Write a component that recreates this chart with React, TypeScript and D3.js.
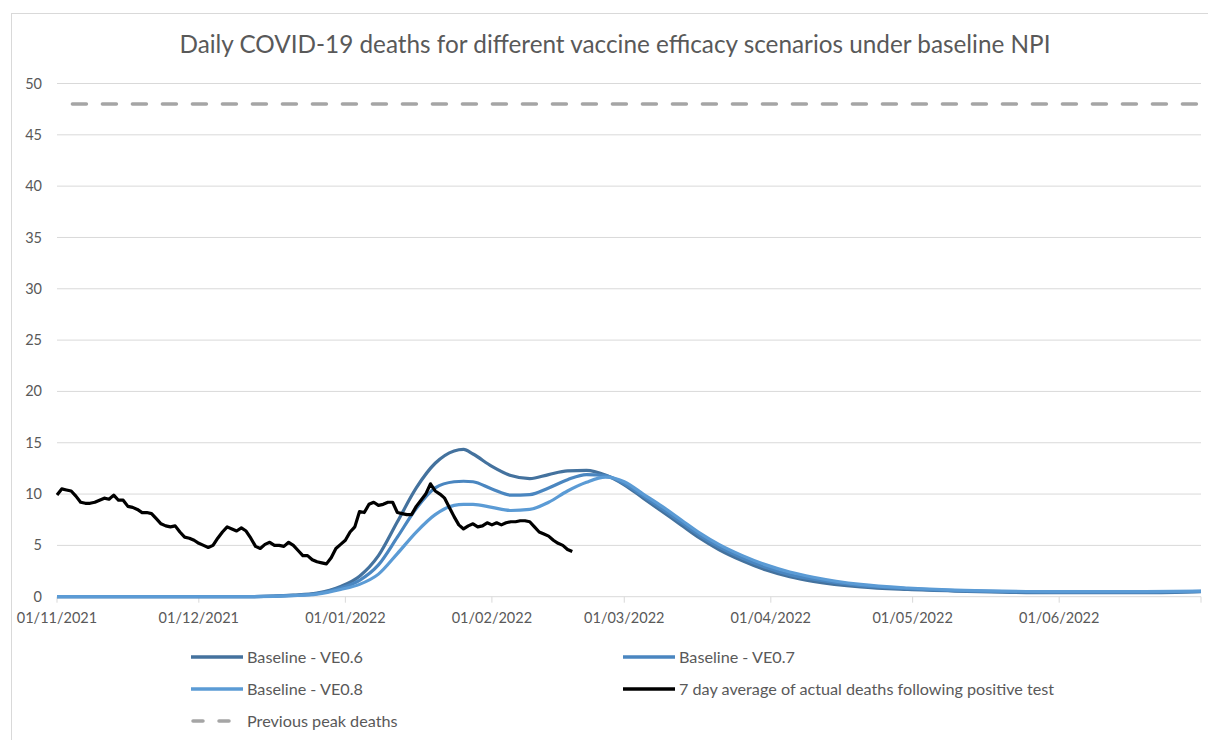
import React from 'react';
import * as d3 from 'd3';

const chartTitle = 'Daily COVID-19 deaths for different vaccine efficacy scenarios under baseline NPI';

const axisStart = '2021-11-01';
const axisEnd = '2022-07-01';
const monthTicks = ['2021-11-01', '2021-12-01', '2022-01-01', '2022-02-01', '2022-03-01', '2022-04-01', '2022-05-01', '2022-06-01'];
const yTicks = [0, 5, 10, 15, 20, 25, 30, 35, 40, 45, 50];

// model output, sampled at these days after 01/11/2021
const modelDays = [0, 40, 50, 55, 60, 64, 68, 72, 76, 80, 84, 86, 88, 92, 96, 100, 104, 108, 112, 116, 120, 124, 128, 132, 136, 140, 145, 150, 155, 160, 170, 180, 190, 200, 210, 220, 230, 242];
const ve06 = [0, 0, 0.15, 0.35, 1.0, 2.0, 4.0, 7.3, 10.6, 13.0, 14.2, 14.35, 13.9, 12.7, 11.8, 11.5, 11.9, 12.25, 12.3, 11.85, 10.9, 9.6, 8.3, 7.0, 5.7, 4.6, 3.5, 2.6, 1.95, 1.5, 0.95, 0.7, 0.55, 0.45, 0.4, 0.4, 0.4, 0.5];
const ve07 = [0, 0, 0.12, 0.3, 0.85, 1.6, 3.1, 5.8, 8.6, 10.6, 11.2, 11.25, 11.2, 10.5, 9.9, 9.95, 10.6, 11.4, 11.9, 11.8, 11.0, 9.8, 8.55, 7.25, 5.95, 4.85, 3.75, 2.85, 2.15, 1.7, 1.08, 0.78, 0.6, 0.5, 0.45, 0.45, 0.45, 0.52];
const ve08 = [0, 0, 0.1, 0.25, 0.7, 1.2, 2.2, 4.2, 6.3, 8.0, 8.9, 9.0, 9.0, 8.7, 8.4, 8.5, 9.2, 10.3, 11.15, 11.65, 11.2, 10.0, 8.8, 7.5, 6.2, 5.1, 4.0, 3.1, 2.4, 1.9, 1.2, 0.85, 0.65, 0.55, 0.5, 0.5, 0.5, 0.55];

// 7 day average of actual deaths, one value a day from 01/11/2021
const actualStart = '2021-11-01';
const actualDeaths = [
  9.9, 10.5, 10.4, 10.3, 9.8, 9.2, 9.1, 9.1, 9.2, 9.4,
  9.6, 9.5, 9.9, 9.4, 9.4, 8.8, 8.7, 8.5, 8.2, 8.2,
  8.1, 7.6, 7.1, 6.9, 6.8, 6.9, 6.3, 5.8, 5.7, 5.5,
  5.2, 5.0, 4.8, 5.0, 5.7, 6.3, 6.8, 6.6, 6.4, 6.7,
  6.4, 5.7, 4.9, 4.7, 5.1, 5.3, 5.0, 5.0, 4.9, 5.3,
  5.0, 4.5, 4.0, 4.0, 3.6, 3.4, 3.3, 3.2, 3.8, 4.7,
  5.1, 5.5, 6.3, 6.8, 8.3, 8.2, 9.0, 9.2, 8.9, 9.0,
  9.2, 9.2, 8.2, 8.1, 8.0, 8.0, 8.8, 9.4, 10.0, 11.0,
  10.3, 10.0, 9.6, 8.7, 7.8, 7.0, 6.6, 6.9, 7.1, 6.8,
  6.9, 7.2, 7.0, 7.2, 7.0, 7.2, 7.3, 7.3, 7.4, 7.4,
  7.3, 6.8, 6.3, 6.1, 5.9, 5.5, 5.2, 5.0, 4.6, 4.4,
];

const previousPeak = 48;

const seriesNames = ['Baseline - VE0.6', 'Baseline - VE0.7', 'Baseline - VE0.8'];
const seriesColors = ['#44729e', '#4a86c0', '#5b9bd5'];
const actualName = '7 day average of actual deaths following positive test';
const peakName = 'Previous peak deaths';

const font = "Lato, 'Open Sans', sans-serif";
const labelColor = '#595959';
const gridColor = '#d9d9d9';

const parse = d3.utcParse('%Y-%m-%d');
const fmt = d3.utcFormat('%d/%m/%Y');

export default function App() {
  const width = 1208;
  const height = 740;
  const left = 57;
  const right = 1201;
  const top = 83.5;
  const bottom = 596.7;

  const x = d3.scaleUtc().domain([parse(axisStart)!, parse(axisEnd)!]).range([left, right]);
  const y = d3.scaleLinear().domain([0, 50]).range([bottom, top]);

  const start = parse(axisStart)!;
  const modelSeries = [ve06, ve07, ve08].map((vals) =>
    vals.map((v, i) => ({ date: d3.utcDay.offset(start, modelDays[i]), value: v }))
  );
  const actual = actualDeaths.map((v, i) => ({ date: d3.utcDay.offset(parse(actualStart)!, i), value: v }));

  const smooth = d3.line<{ date: Date; value: number }>()
    .x((d) => x(d.date))
    .y((d) => y(d.value))
    .curve(d3.curveMonotoneX);
  const straight = d3.line<{ date: Date; value: number }>()
    .x((d) => x(d.date))
    .y((d) => y(d.value));

  const legend = [
    { name: seriesNames[0], color: seriesColors[0], dash: false, col: 0, row: 0 },
    { name: seriesNames[1], color: seriesColors[1], dash: false, col: 1, row: 0 },
    { name: seriesNames[2], color: seriesColors[2], dash: false, col: 0, row: 1 },
    { name: actualName, color: '#000000', dash: false, col: 1, row: 1 },
    { name: peakName, color: '#a5a5a5', dash: true, col: 0, row: 2 },
  ];
  const legendCols = [191, 623];
  const legendRows = [657, 689, 721];

  return (
    <svg width={width} height={height} style={{ position: 'absolute', left: 0, top: 0, background: '#fff' }}>
      <rect x={11.5} y={13.5} width={1300} height={800} fill="#fff" stroke={gridColor} />
      <text x={615} y={53} textAnchor="middle" fontFamily={font} fontSize={24.3} fill={labelColor}>
        {chartTitle}
      </text>

      {yTicks.map((t) => (
        <g key={t}>
          <line x1={left} x2={right} y1={y(t)} y2={y(t)} stroke={gridColor} strokeWidth={1} />
          <text x={42} y={y(t)} dy="0.35em" textAnchor="end" fontFamily={font} fontSize={14.5} fill={labelColor}>
            {t}
          </text>
        </g>
      ))}

      {[...monthTicks.map((m) => parse(m)!), parse(axisEnd)!].map((d, i) => (
        <line key={i} x1={x(d)} x2={x(d)} y1={bottom} y2={bottom + 6} stroke={gridColor} />
      ))}
      {monthTicks.map((m) => (
        <text key={m} x={x(parse(m)!)} y={623} textAnchor="middle" fontFamily={font} fontSize={14.5} fill={labelColor}>
          {fmt(parse(m)!)}
        </text>
      ))}

      {modelSeries.map((s, i) => (
        <path key={i} d={smooth(s) || ''} fill="none" stroke={seriesColors[i]} strokeWidth={3.2} strokeLinejoin="round" />
      ))}
      <path d={straight(actual) || ''} fill="none" stroke="#000" strokeWidth={3.2} strokeLinejoin="round" />
      <line
        x1={left}
        x2={right}
        y1={y(previousPeak)}
        y2={y(previousPeak)}
        stroke="#a5a5a5"
        strokeWidth={3.5}
        strokeDasharray="14 16"
        strokeDashoffset={14.6}
        strokeLinecap="round"
      />

      {legend.map((l) => {
        const lx = legendCols[l.col];
        const ly = legendRows[l.row];
        return (
          <g key={l.name}>
            {l.dash ? (
              <line x1={lx + 2} x2={lx + 52} y1={ly} y2={ly} stroke={l.color} strokeWidth={3.5}
                strokeDasharray="10 16" strokeLinecap="round" />
            ) : (
              <line x1={lx} x2={lx + 52} y1={ly} y2={ly} stroke={l.color} strokeWidth={3.5} />
            )}
            <text x={lx + 56} y={ly} dy="0.35em" fontFamily={font} fontSize={16.2} fill={labelColor}>
              {l.name}
            </text>
          </g>
        );
      })}
    </svg>
  );
}
